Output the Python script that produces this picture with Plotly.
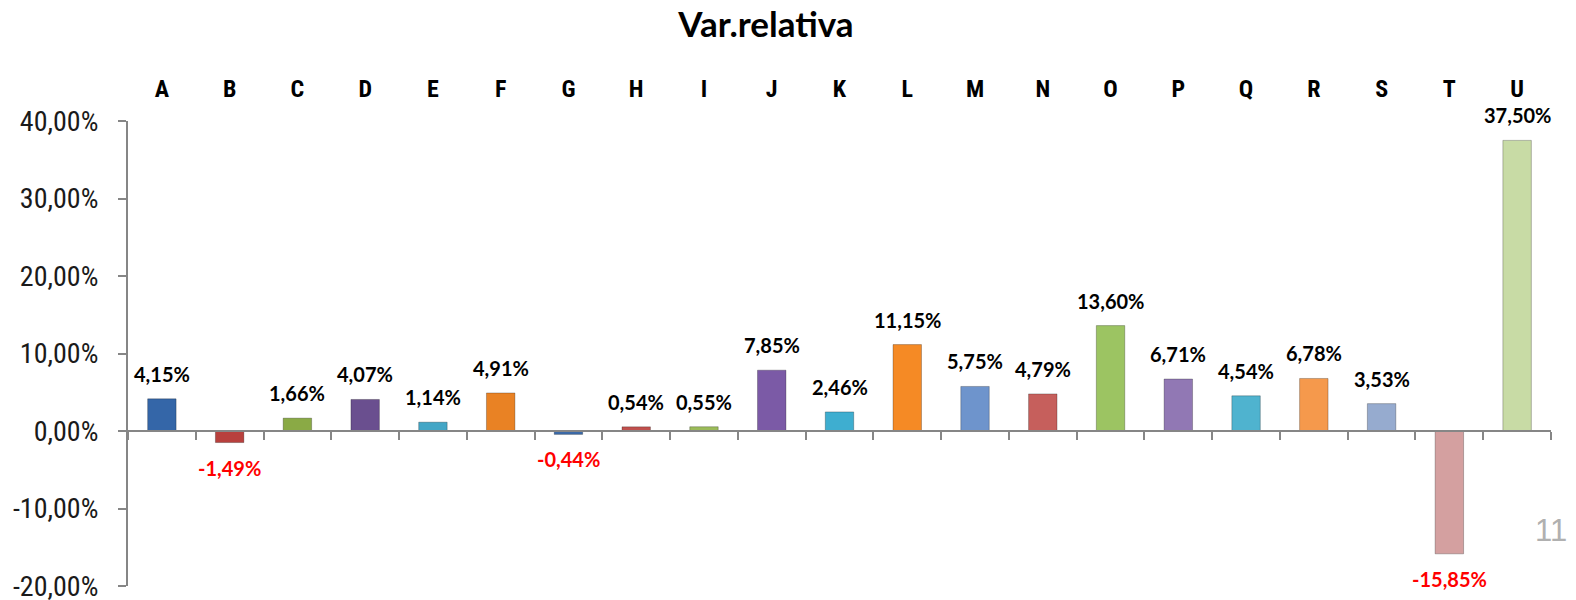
import plotly.graph_objects as go

categorias = ['A', 'B', 'C', 'D', 'E', 'F', 'G', 'H', 'I', 'J', 'K',
              'L', 'M', 'N', 'O', 'P', 'Q', 'R', 'S', 'T', 'U']
var_relativa = [4.15, -1.49, 1.66, 4.07, 1.14, 4.91, -0.44, 0.54, 0.55, 7.85, 2.46,
                11.15, 5.75, 4.79, 13.60, 6.71, 4.54, 6.78, 3.53, -15.85, 37.50]
cores = ['#3466a8', '#b8403d', '#8aaa45', '#6a4f8f', '#43a6c6', '#e98224', '#3c6aa8',
         '#c0504d', '#9bbb59', '#7b5aa6', '#3eaed0', '#f58a25', '#6e94cc', '#c65f5c',
         '#9cc462', '#9178b4', '#4fb3cf', '#f5994c', '#96abcf', '#d4a0a0', '#c8dba5']
y_ticks = [-20, -10, 0, 10, 20, 30, 40]

LABEL_FONT = 'Lato, Open Sans, sans-serif'
NARROW = 'Liberation Sans Narrow, Arial Narrow, Roboto Condensed, Liberation Sans, sans-serif'
AXIS_COLOR = '#868686'


def fmt(v):
    return f'{v:.2f}%'.replace('.', ',')


fig = go.Figure()
fig.add_trace(go.Bar(x=categorias, y=var_relativa,
                     marker=dict(color=cores, line=dict(color='rgba(0,0,0,0.25)', width=1)),
                     width=0.42, showlegend=False, hoverinfo='skip'))
# eixo auxiliar so para os rotulos no topo
fig.add_trace(go.Scatter(x=categorias, y=[0] * len(categorias), xaxis='x2',
                         mode='markers', marker=dict(opacity=0), showlegend=False,
                         hoverinfo='skip'))

annotations = []
for cat, v in zip(categorias, var_relativa):
    annotations.append(dict(x=cat, y=v, xref='x', yref='y',
                            text=f'<b>{fmt(v)}</b>', showarrow=False,
                            yanchor='middle', yshift=25 if v >= 0 else -25,
                            font=dict(family=LABEL_FONT, size=20,
                                      color='black' if v >= 0 else '#ff0000')))
annotations.append(dict(x=1.0, y=0.12, xref='x domain', yref='y domain', text='11',
                        showarrow=False, xanchor='center', yanchor='middle',
                        font=dict(family='Liberation Sans', size=31, color='#b0b0b0')))

fig.update_layout(
    width=1576, height=600,
    margin=dict(l=128, r=25, t=121, b=14, autoexpand=False),
    paper_bgcolor='white', plot_bgcolor='white',
    separators=',.',
    title=dict(text='<b>Var.relativa</b>', x=0.486, xanchor='center', y=1 - 25 / 600,
               yanchor='middle', font=dict(family=LABEL_FONT, size=35, color='black')),
    xaxis=dict(type='category', anchor='free', position=1 / 3, showline=True,
               linecolor=AXIS_COLOR, linewidth=2, ticks='outside', tickson='boundaries',
               ticklen=8, tickwidth=2, tickcolor=AXIS_COLOR, showticklabels=False,
               showgrid=False, zeroline=False, range=[-0.5, 20.5], automargin=False),
    xaxis2=dict(type='category', overlaying='x', side='top', anchor='y', matches='x',
                showline=False, ticks='', showgrid=False, ticklabelstandoff=18,
                automargin=False,
                tickfont=dict(family=NARROW, size=24, color='black', weight='bold')),
    yaxis=dict(range=[-20, 40], tickvals=y_ticks, ticktext=[fmt(t) for t in y_ticks],
               showline=True, linecolor=AXIS_COLOR, linewidth=2, ticks='outside',
               ticklen=8, tickwidth=2, tickcolor=AXIS_COLOR, showgrid=False,
               zeroline=False, ticklabelstandoff=14, automargin=False,
               ticklabeloverflow='allow',
               tickfont=dict(family=NARROW, size=28, color='#1a1a1a')),
    annotations=annotations,
)

# tira a margem padrao do body para o grafico ocupar a janela inteira
fig.write_html('out.html', config={'displayModeBar': False},
               post_script="document.body.style.margin='0';document.body.style.overflow='hidden';")
